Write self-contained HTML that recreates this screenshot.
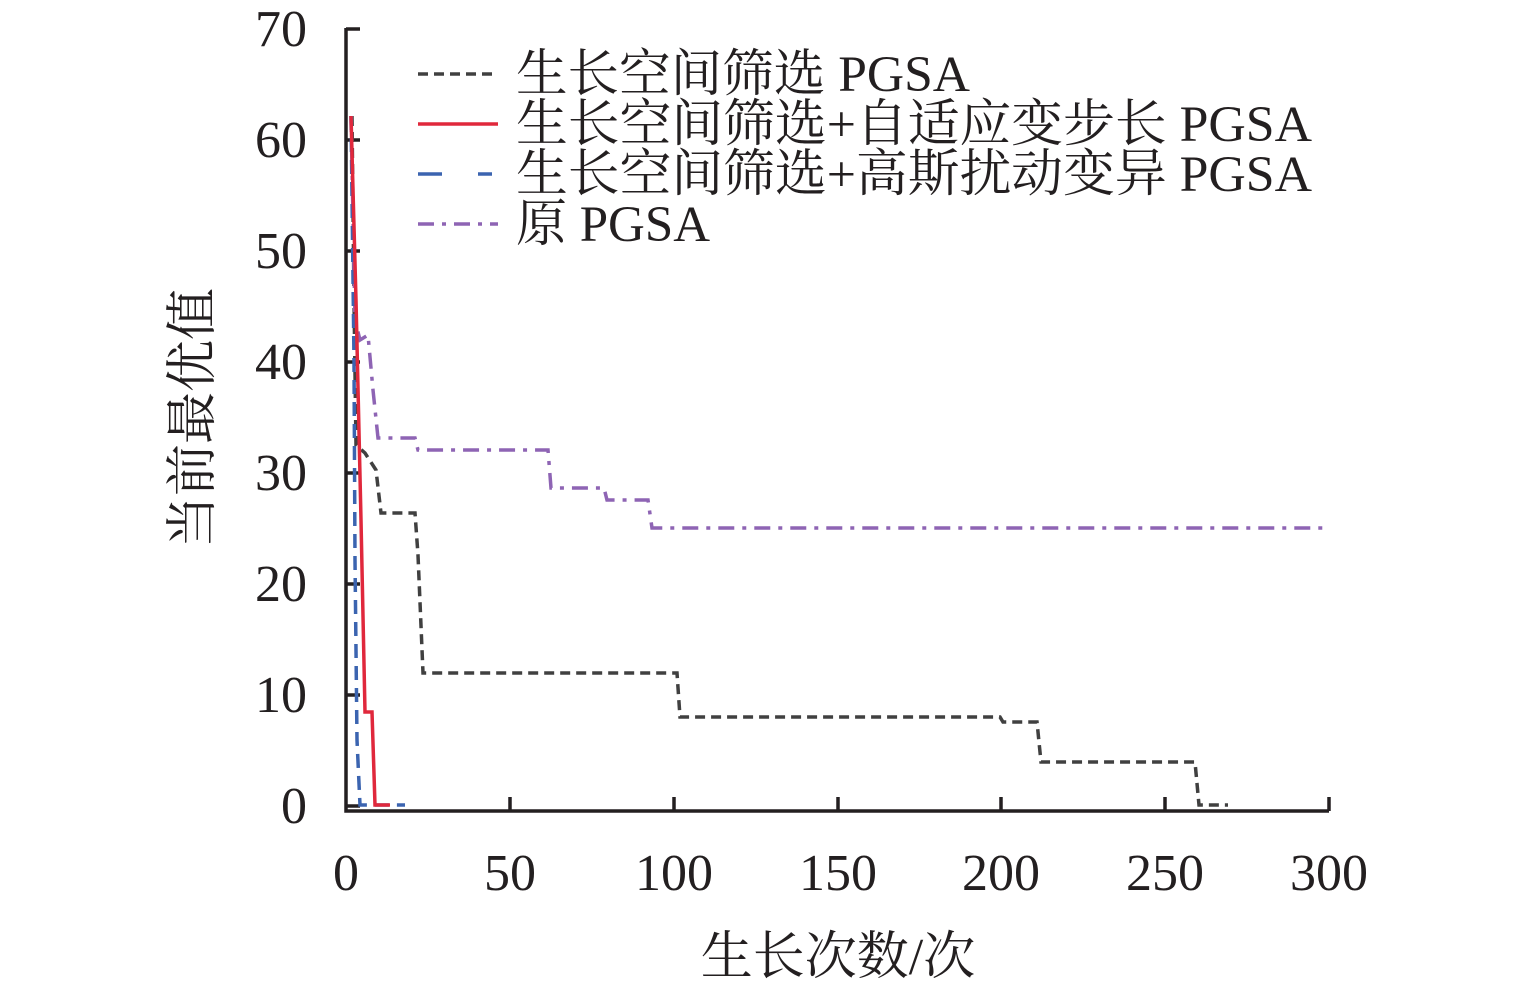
<!DOCTYPE html>
<html><head><meta charset="utf-8"><style>
body{margin:0;background:#fff}
svg text{font-family:"Liberation Serif","Noto Serif CJK SC",serif;fill:#231f20}
</style></head><body>
<svg width="1535" height="991" viewBox="0 0 1535 991" xmlns="http://www.w3.org/2000/svg">
<g stroke="#231f20" stroke-width="3.5" fill="none">
<path d="M346,28 V811 H1329"/>
<path d="M346,29 H360 M346,140 H360 M346,251 H360 M346,362 H360 M346,473 H360 M346,584 H360 M346,695 H360 M346,806 H360"/>
<path d="M510,811 V797 M674,811 V797 M838,811 V797 M1001,811 V797 M1165,811 V797 M1329,811 V797"/>
</g>
<g font-size="52" text-anchor="end">
<text x="307" y="46">70</text><text x="307" y="157">60</text><text x="307" y="268">50</text>
<text x="307" y="379">40</text><text x="307" y="490">30</text><text x="307" y="601">20</text>
<text x="307" y="712">10</text><text x="307" y="823">0</text>
</g>
<g font-size="52" text-anchor="middle">
<text x="346" y="890">0</text><text x="510" y="890">50</text><text x="674" y="890">100</text>
<text x="838" y="890">150</text><text x="1001" y="890">200</text><text x="1165" y="890">250</text><text x="1329" y="890">300</text>
<text x="838" y="974">生长次数/次</text>
<text transform="translate(210,418) rotate(-90)">当前最优值</text>
</g>
<path d="M352,116 L354,300 L356,445 L365,453 L376,470 L381,513 L415,513 L418,555 L423,673 L677,673 L680,717 L1000,717 L1003,722 L1037,722 L1041,762 L1195,762 L1199,805 L1228,805" stroke="#404040" stroke-width="3.5" fill="none" stroke-dasharray="10,6"/>
<path d="M351,116 L355,320 L360,340 L368,335 L373,390 L378,438 L415,438 L418,450 L548,450 L551,488 L604,488 L607,500 L648,500 L652,528 L1325,528" stroke="#8e64b4" stroke-width="3.5" fill="none" stroke-dasharray="16,8,4,8"/>
<path d="M351,116 L354,360 L355,560 L357,740 L360,805 L405,805" stroke="#3b64b0" stroke-width="3.5" fill="none" stroke-dasharray="14,8"/>
<path d="M351,116 L356,300 L361,520 L365,712 L372,712 L375,805 L390,805" stroke="#e0283c" stroke-width="3.5" fill="none"/>
<line x1="418" y1="74" x2="498" y2="74" stroke="#404040" stroke-width="3.5" stroke-dasharray="10,6"/>
<line x1="418" y1="124" x2="498" y2="124" stroke="#e0283c" stroke-width="3.5"/>
<line x1="418" y1="174" x2="498" y2="174" stroke="#3b64b0" stroke-width="3.5" stroke-dasharray="24,36,14"/>
<line x1="418" y1="224" x2="498" y2="224" stroke="#8e64b4" stroke-width="3.5" stroke-dasharray="16,8,4,8"/>
<g font-size="51">
<text x="516" y="91" textLength="454" lengthAdjust="spacingAndGlyphs">生长空间筛选 PGSA</text>
<text x="516" y="141" textLength="796" lengthAdjust="spacingAndGlyphs">生长空间筛选+自适应变步长 PGSA</text>
<text x="516" y="191" textLength="796" lengthAdjust="spacingAndGlyphs">生长空间筛选+高斯扰动变异 PGSA</text>
<text x="516" y="241" textLength="194" lengthAdjust="spacingAndGlyphs">原 PGSA</text>
</g>
</svg>
</body></html>
